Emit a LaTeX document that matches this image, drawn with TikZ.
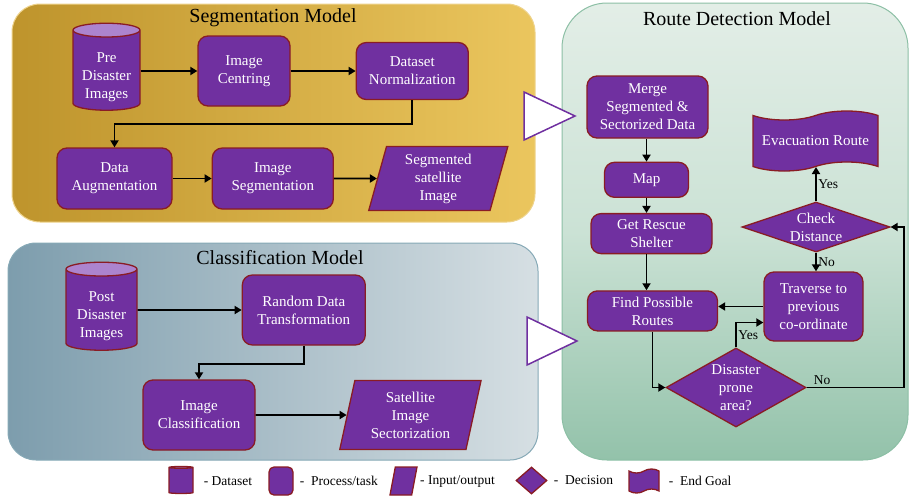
\documentclass[tikz,border=0pt]{standalone}
\usepackage{fontspec}
\setmainfont{Liberation Serif}
\usepackage{xcolor}
\usepackage{tikz}
\usetikzlibrary{positioning, arrows.meta, shapes.geometric, shapes.symbols}

\definecolor{taskfill}{HTML}{7030A0}
\definecolor{taskline}{HTML}{8A1C24}
\definecolor{cyltop}{HTML}{AC84CE}
\definecolor{segleft}{HTML}{BE942C}
\definecolor{segright}{HTML}{EBC65E}
\definecolor{segedge}{HTML}{EED38C}
\definecolor{clsleft}{HTML}{7D9DAD}
\definecolor{clsright}{HTML}{D6DFE3}
\definecolor{clsedge}{HTML}{86A9B6}
\definecolor{routetop}{HTML}{E3EEE7}
\definecolor{routemid}{HTML}{CBE2D5}
\definecolor{routebot}{HTML}{93C2AA}
\definecolor{routeedge}{HTML}{8CBFA5}

\newcommand{\boxfont}{\fontsize{15}{18}\selectfont}
\newcommand{\keyfont}{\fontsize{13.5}{16}\selectfont}
% pushes the label of a cylinder down into its body
\newcommand{\cyltext}{\rule{0pt}{23pt}}

\begin{document}
\begin{tikzpicture}[
    x=1pt, y=-1pt,
    process/.style={rectangle, draw=taskline, fill=taskfill, line width=1.3pt, rounded corners=10pt, align=center, text=white, font=\boxfont, inner sep=0pt},
    dataset/.style={cylinder, shape border rotate=90, shape aspect=0.28, draw=taskline, line width=1.3pt, cylinder uses custom fill, cylinder body fill=taskfill, cylinder end fill=cyltop, align=center, text=white, font=\boxfont, inner sep=0pt},
    inout/.style={trapezium, trapezium left angle=77, trapezium right angle=103, trapezium stretches=true, draw=taskline, fill=taskfill, line width=1.3pt, align=center, text=white, font=\boxfont, inner sep=0pt},
    decision/.style={diamond, draw=taskline, fill=taskfill, line width=1.3pt, align=center, text=white, font=\boxfont, inner sep=0pt},
    goal/.style={tape, tape bend height=9pt, draw=taskline, fill=taskfill, line width=1.3pt, align=center, text=white, font=\boxfont, inner sep=0pt},
    keyshape/.style={inner sep=2pt},
    paneltitle/.style={font=\fontsize{20}{24}\selectfont, inner sep=0pt},
    keytext/.style={font=\keyfont, inner sep=0pt, anchor=west},
    lbl/.style={font=\keyfont, inner sep=1.5pt},
    arrow/.style={-{Triangle[length=7pt, width=8pt]}, line width=1.8pt}
]
    \useasboundingbox (0,0) rectangle (910,496);

    % panels
    \path[draw=segedge, line width=1pt, left color=segleft, right color=segright, rounded corners=28pt] (12,4) rectangle (535,222);
    \path[draw=clsedge, line width=1pt, left color=clsleft, right color=clsright, rounded corners=28pt] (8,243) rectangle (538,460);
    \path[draw=routeedge, line width=1pt, top color=routetop, bottom color=routebot, middle color=routemid, rounded corners=45pt] (562,3) rectangle (908,460);

    \node[paneltitle] (segtitle) at (273,18) {Segmentation Model};
    \node[paneltitle] (clstitle) at (280,258) {Classification Model};
    \node[paneltitle] (routetitle) at (737,19) {Route Detection Model};

    % hand-over triangles between the panels
    \draw[draw=taskfill, fill=white, line width=1.5pt] (524,92) -- (575,116) -- (524,140) -- cycle;
    \draw[draw=taskfill, fill=white, line width=1.5pt] (527,317) -- (577,341) -- (527,365) -- cycle;

    % segmentation
    \node[dataset, minimum width=67pt, minimum height=87pt] (precyl) at (106.5,70.5) {\cyltext Pre\\Disaster\\Images};
    \node[process, minimum width=92pt, minimum height=70pt] (centring) at (244,71) {Image\\Centring};
    \node[process, minimum width=112pt, minimum height=57pt, right=65pt of centring] (norm) {Dataset\\Normalization};
    \node[process, minimum width=115pt, minimum height=61pt] (augment) at (114.5,178.5) {Data\\Augmentation};
    \node[process, minimum width=121pt, minimum height=61pt, right=39pt of augment] (imgseg) {Image\\Segmentation};
    \node[inout, minimum width=140pt, minimum height=64pt, right=43pt of imgseg] (segsat) {Segmented\\satellite\\Image};

    \draw[arrow] (precyl.east |- centring) -- (centring);
    \draw[arrow] (centring) -- (norm);
    \draw[arrow] (norm.south) -- ++(0,24) -| (augment.north);
    \draw[arrow] (augment) -- (imgseg);
    \draw[arrow] (imgseg) -- (segsat);

    % classification
    \node[dataset, minimum width=71pt, minimum height=88pt] (postcyl) at (101.5,310) {\cyltext Post\\Disaster\\Images};
    \node[process, minimum width=123pt, minimum height=70pt, right=104pt of postcyl] (randtf) {Random Data\\Transformation};
    \node[process, minimum width=112pt, minimum height=70pt] (imgcls) at (199,415) {Image\\Classification};
    \node[inout, minimum width=142pt, minimum height=69pt, right=91pt of imgcls] (sector) {Satellite\\Image\\Sectorization};

    \draw[arrow] (postcyl) -- (randtf);
    \draw[arrow] (randtf.south) -- ++(0,18) -| (imgcls.north);
    \draw[arrow] (imgcls) -- (sector);

    % route detection
    \node[process, minimum width=121pt, minimum height=62pt] (merge) at (647.5,107) {Merge\\Segmented \&\\Sectorized Data};
    \node[process, minimum width=84pt, minimum height=35pt, below=23pt of merge, xshift=-1pt] (map) {Map};
    \node[process, minimum width=121pt, minimum height=40pt, below=15pt of map, xshift=5pt] (shelter) {Get Rescue\\Shelter};
    \node[process, minimum width=130pt, minimum height=40pt, below=36pt of shelter, xshift=1pt] (findrt) {Find Possible\\Routes};
    \node[decision, aspect=1.77, minimum width=140pt, minimum height=79pt] (prone) at (736,387.5) {Disaster\\prone\\area?};
    \node[process, minimum width=99pt, minimum height=69pt] (traverse) at (813.5,306.5) {Traverse to\\previous\\co-ordinate};
    \node[decision, aspect=2.96, minimum width=148pt, minimum height=50pt] (checkd) at (816,227) {Check\\Distance};
    \node[goal, minimum width=125pt, minimum height=60pt] (evac) at (815.5,141) {Evacuation Route};

    \draw[arrow] (merge.south -| map) -- (map);
    \draw[arrow] (map) -- (map |- shelter.north);
    \draw[arrow] (shelter.south -| map) -- (findrt.north -| map);
    \draw[arrow] (findrt.south) |- (prone.west);
    \draw[arrow] (prone.east) -- node[lbl, above, pos=0.16] {No} ++(97,0) |- (checkd.east);
    \draw[arrow] (prone.north) |- node[lbl, right, pos=0.25] {Yes} ([yshift=-16pt]traverse.west);
    \draw[arrow] (checkd.south) -- node[lbl, right] {No} (checkd.south |- traverse.north);
    \draw[arrow] (checkd.north) -- node[lbl, right] {Yes} (checkd.north |- evac.south);
    \draw[arrow] (traverse.west) -- (traverse.west -| findrt.east);

    % key
    \node[dataset, keyshape, shape aspect=0.45, minimum width=24pt, minimum height=27pt] (keydata) at (181,481) {};
    \node[keytext, right=10pt of keydata] (keydatatxt) {- Dataset};
    \node[process, keyshape, rounded corners=5pt, minimum width=24pt, minimum height=28pt] (keytask) at (281,481) {};
    \node[keytext, right=6pt of keytask] (keytasktxt) {-~~Process/task};
    \node[inout, keyshape, trapezium left angle=72, trapezium right angle=108, minimum width=27pt, minimum height=28pt] (keyio) at (403.5,481) {};
    \node[keytext, right=5pt of keyio] (keyiotxt) {- Input/output};
    \node[decision, keyshape, minimum width=31pt, minimum height=27pt] (keydec) at (531.5,480.5) {};
    \node[keytext, right=6pt of keydec] (keydectxt) {-~~Decision};
    \node[goal, keyshape, tape bend height=4pt, minimum width=30pt, minimum height=24pt] (keygoal) at (644,481) {};
    \node[keytext, right=9pt of keygoal] (keygoaltxt) {-~~End Goal};
\end{tikzpicture}
\end{document}
